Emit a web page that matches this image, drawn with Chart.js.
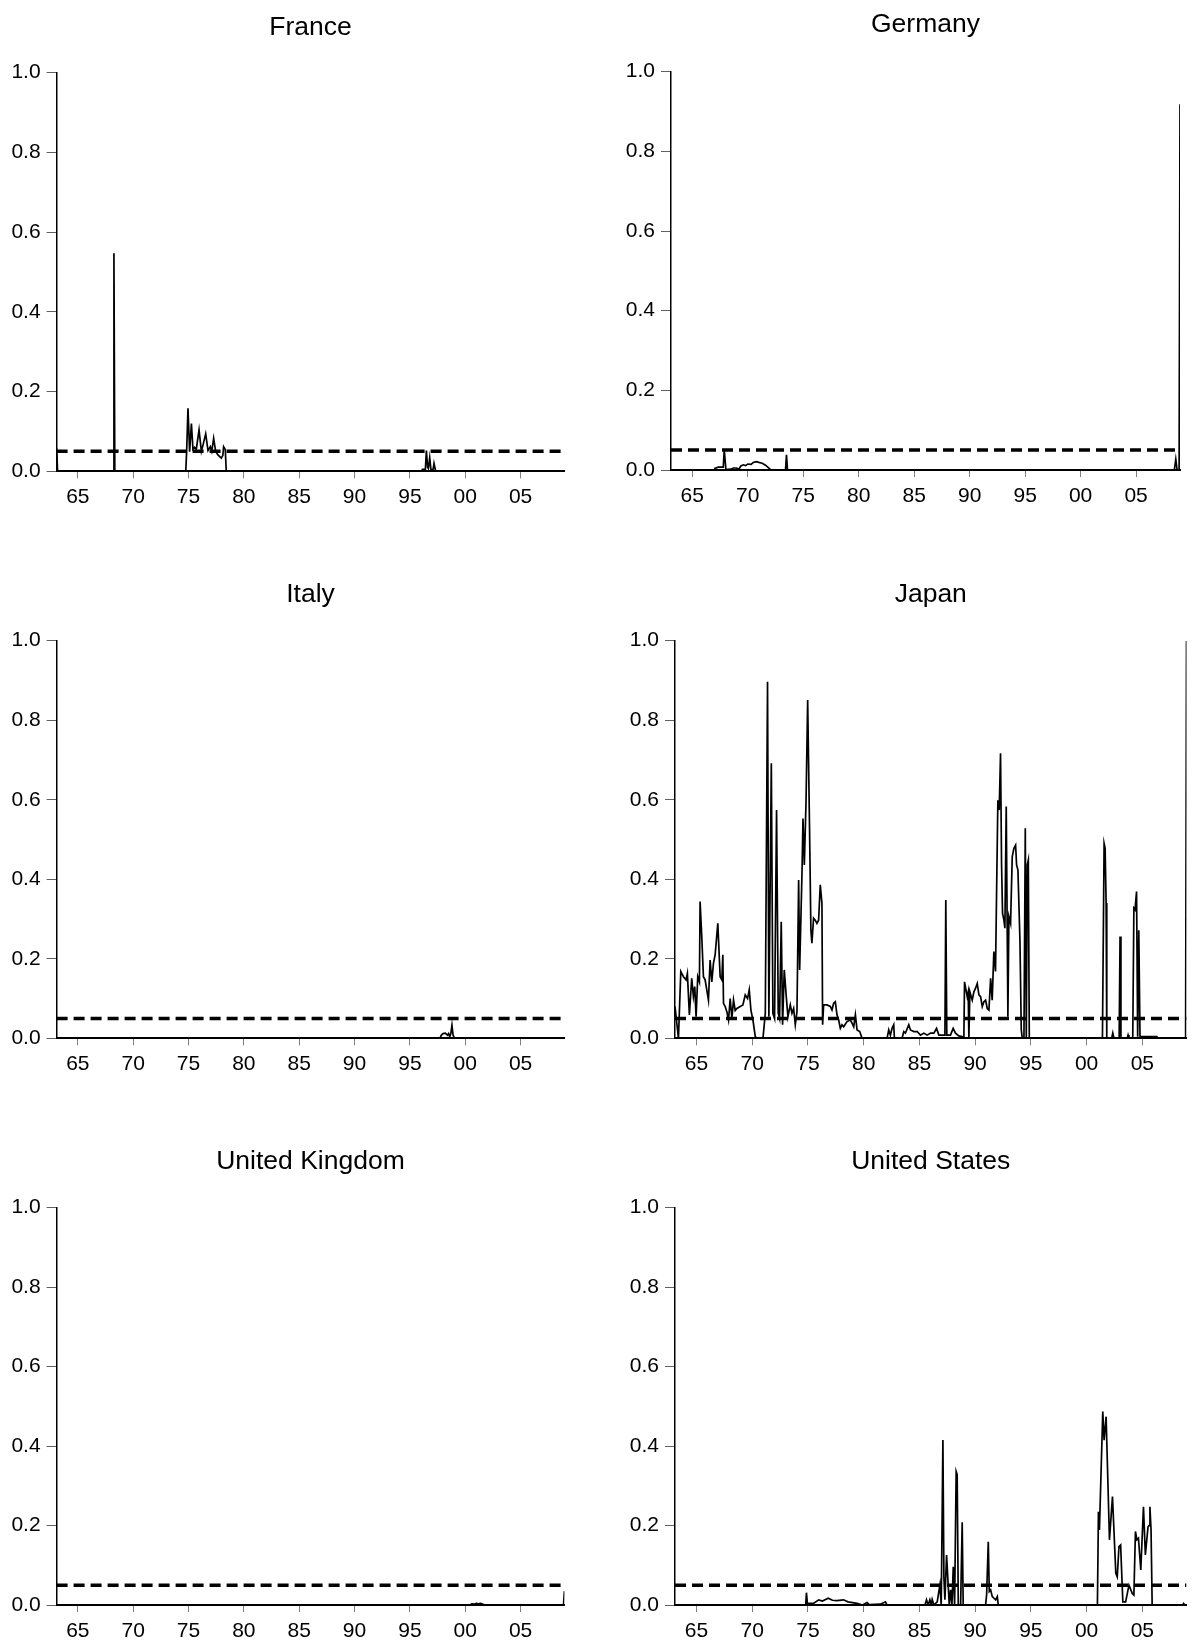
<!DOCTYPE html>
<html>
<head>
<meta charset="utf-8">
<script src="https://cdn.jsdelivr.net/npm/chart.js@4.4.1/dist/chart.umd.min.js"></script>
<style>
html,body{margin:0;padding:0;background:#fff;overflow:hidden;width:1192px;height:1641px;position:relative;}
canvas{position:absolute;}
</style>
</head>
<body>
<script>
// ---- axis definitions ----
const xMin = 1963.08, xMax = 2008.96;
const xTickYears = [1965, 1970, 1975, 1980, 1985, 1990, 1995, 2000, 2005];
const xTickLabels = ['65', '70', '75', '80', '85', '90', '95', '00', '05'];
const yTickValues = [0, 0.2, 0.4, 0.6, 0.8, 1.0];
const yTickLabels = ['0.0', '0.2', '0.4', '0.6', '0.8', '1.0'];

// ---- 5% reference line ----
const thresholdX = [xMin, xMax];
const thresholdY = [0.05, 0.05];

// ---- series (decimal year, probability) ----
const franceX = [1963.08, 1963.17, 1968.18, 1968.26, 1968.34, 1974.75, 1974.83, 1974.95, 1975.1, 1975.26,
  1975.4, 1975.55, 1975.7, 1975.95, 1976.16, 1976.3, 1976.55, 1976.76, 1976.97, 1977.1,
  1977.27, 1977.45, 1977.66, 1977.96, 1978.1, 1978.17, 1978.32, 1978.41, 1996.05, 1996.13,
  1996.4, 1996.49, 1996.6, 1996.67, 1996.79, 1996.9, 1996.97, 1997.1, 1997.18, 1997.33, 2008.96];
const franceY = [0.058, 0, 0, 0.547, 0, 0, 0.05, 0.158, 0.049, 0.12,
  0.055, 0.06, 0.055, 0.104, 0.05, 0.065, 0.094, 0.052, 0.062, 0.05,
  0.083, 0.05, 0.041, 0.033, 0.04, 0.062, 0.055, 0, 0, 0.005,
  0.005, 0.052, 0.01, 0.007, 0.034, 0.005, 0.003, 0.005, 0.02, 0, 0];

const germanyX = [1963.08, 1967.0, 1967.04, 1967.34, 1967.79, 1967.88, 1968.03, 1968.5, 1968.7, 1968.99,
  1969.2, 1969.38, 1969.6, 1969.8, 1970.0, 1970.3, 1970.5, 1970.75, 1971.0, 1971.3,
  1971.6, 1971.85, 1972.05, 1972.14, 1973.4, 1973.49, 1973.58, 2008.45, 2008.58, 2008.7,
  2008.88, 2008.96];
const germanyY = [0, 0, 0.004, 0.007, 0.007, 0.05, 0.001, 0.002, 0.005, 0.005,
  0.002, 0.010, 0.013, 0.011, 0.015, 0.014, 0.019, 0.021, 0.019, 0.017,
  0.012, 0.006, 0.001, 0, 0, 0.038, 0, 0, 0.027, 0,
  0, 0.918];

const italyX = [1963.08, 1997.7, 1997.85, 1998.0, 1998.2, 1998.4, 1998.5, 1998.6, 1998.7, 1998.8, 1998.9, 1999.0, 1999.15, 2008.96];
const italyY = [0, 0, 0.008, 0.012, 0.013, 0.008, 0.012, 0.004, 0.012, 0.033, 0.008, 0.002, 0, 0];

const japanX = [1963.08, 1963.39, 1963.6, 1963.84, 1964.07, 1964.19, 1964.37, 1964.58, 1964.73, 1964.85,
  1964.97, 1965.12, 1965.27, 1965.33, 1965.48, 1965.63, 1965.78, 1965.93, 1966.08, 1966.23,
  1966.38, 1966.53, 1966.68, 1966.92, 1967.13, 1967.28, 1967.37, 1967.43, 1967.58, 1967.73,
  1967.88, 1968.03, 1968.18, 1968.33, 1968.48, 1968.63, 1968.93, 1969.17, 1969.38, 1969.59,
  1969.74, 1969.89, 1970.07, 1970.28, 1970.43, 1970.97, 1971.18, 1971.38, 1971.5, 1971.72,
  1971.86, 1972.01, 1972.19, 1972.34, 1972.46, 1972.61, 1972.73, 1972.88, 1973.06, 1973.21,
  1973.42, 1973.57, 1973.72, 1973.87, 1974.02, 1974.17, 1974.26, 1974.47, 1974.56, 1974.68,
  1974.83, 1974.98, 1975.15, 1975.27, 1975.36, 1975.51, 1975.66, 1975.81, 1975.96, 1976.11,
  1976.26, 1976.32, 1976.41, 1976.71, 1977.01, 1977.16, 1977.31, 1977.46, 1977.61, 1977.76,
  1977.91, 1978.06, 1978.21, 1978.51, 1978.81, 1978.96, 1979.11, 1979.26, 1979.41, 1979.65,
  1979.86, 1982.1, 1982.25, 1982.4, 1982.55, 1982.7, 1982.76, 1983.45, 1983.6, 1983.75,
  1984.05, 1984.2, 1984.5, 1984.8, 1985.1, 1985.4, 1985.7, 1986.0, 1986.3, 1986.54,
  1986.75, 1987.05, 1987.29, 1987.37, 1987.46, 1987.79, 1988.03, 1988.24, 1988.54, 1988.99,
  1989.05, 1989.29, 1989.38, 1989.44, 1989.53, 1989.74, 1989.89, 1990.04, 1990.19, 1990.34,
  1990.49, 1990.64, 1990.79, 1990.94, 1991.09, 1991.24, 1991.39, 1991.53, 1991.68, 1991.83,
  1991.92, 1992.04, 1992.16, 1992.28, 1992.37, 1992.46, 1992.58, 1992.67, 1992.79, 1992.94,
  1993.03, 1993.18, 1993.33, 1993.48, 1993.63, 1993.72, 1993.84, 1994.02, 1994.14, 1994.23,
  1994.38, 1994.5, 1994.59, 1994.68, 1994.77, 1994.86, 2001.42, 2001.57, 2001.66, 2001.75,
  2001.81, 2002.25, 2002.35, 2002.45, 2002.92, 2003.0, 2003.08, 2003.65, 2003.72, 2003.8,
  2004.1, 2004.14, 2004.24, 2004.34, 2004.48, 2004.58, 2004.68, 2004.79, 2006.3, 2006.4,
  2008.88, 2008.96];
const japanY = [0.08, 0, 0.168, 0.155, 0.147, 0.163, 0.059, 0.151, 0.105, 0.13,
  0.054, 0.155, 0.142, 0.344, 0.256, 0.155, 0.147, 0.122, 0.096, 0.197,
  0.142, 0.189, 0.21, 0.289, 0.155, 0.147, 0.21, 0.088, 0.08, 0.067,
  0.046, 0.1, 0.05, 0.096, 0.07, 0.075, 0.08, 0.084, 0.109, 0.1,
  0.122, 0.071, 0.046, 0.004, 0, 0, 0.063, 0.897, 0.054, 0.692,
  0.063, 0.05, 0.574, 0.063, 0.05, 0.293, 0.034, 0.172, 0.105, 0.054,
  0.084, 0.063, 0.075, 0.034, 0.067, 0.398, 0.172, 0.415, 0.553, 0.436,
  0.591, 0.851, 0.524, 0.272, 0.239, 0.302, 0.297, 0.289, 0.297, 0.386,
  0.339, 0.034, 0.084, 0.084, 0.08, 0.071, 0.088, 0.092, 0.059, 0.046,
  0.025, 0.034, 0.029, 0.042, 0.046, 0.038, 0.029, 0.059, 0.021, 0.017,
  0, 0, 0.021, 0.008, 0.025, 0.034, 0, 0, 0.017, 0.013,
  0.034, 0.021, 0.017, 0.017, 0.008, 0.013, 0.008, 0.013, 0.013, 0.025,
  0.008, 0.008, 0.008, 0.348, 0.008, 0.008, 0.025, 0.013, 0.006, 0.003,
  0.142, 0.105, 0.117, 0, 0.117, 0.096, 0.117, 0.126, 0.138, 0.109,
  0.105, 0.08, 0.092, 0.096, 0.075, 0.071, 0.151, 0.096, 0.218, 0.168,
  0.356, 0.599, 0.574, 0.717, 0.44, 0.314, 0.298, 0.277, 0.583, 0.054,
  0.306, 0.289, 0.457, 0.478, 0.486, 0.436, 0.423, 0.247, 0.021, 0,
  0, 0.528, 0, 0.436, 0.448, 0, 0, 0.49, 0.478, 0.34,
  0, 0, 0.013, 0, 0, 0.256, 0, 0, 0.008, 0,
  0, 0.004, 0.327, 0.323, 0.369, 0.004, 0.272, 0.004, 0.004, 0,
  0, 1.0];

const ukX = [1963.08, 2000.4, 2000.6, 2000.8, 2001.0, 2001.2, 2001.4, 2001.6, 2001.9, 2008.88, 2008.96];
const ukY = [0, 0, 0.003, 0.002, 0.004, 0.003, 0.004, 0.002, 0, 0, 0.035];

const usX = [1963.08, 1974.8, 1974.87, 1974.95, 1975.5, 1975.97, 1976.3, 1976.82, 1977.2, 1977.6,
  1978.19, 1978.6, 1979.0, 1979.4, 1979.9, 1980.3, 1980.5, 1981.5, 1981.96, 1982.1,
  1985.5, 1985.64, 1985.79, 1985.94, 1986.06, 1986.15, 1986.3, 1986.6, 1986.84, 1986.96,
  1987.11, 1987.2, 1987.29, 1987.44, 1987.56, 1987.68, 1987.8, 1987.92, 1988.04, 1988.16,
  1988.3, 1988.39, 1988.49, 1988.7, 1988.84, 1988.93, 1990.94, 1991.03, 1991.18, 1991.27,
  1991.39, 1991.54, 1991.69, 1991.84, 1991.99, 1992.08, 2000.97, 2001.06, 2001.15, 2001.45,
  2001.57, 2001.75, 2002.05, 2002.32, 2002.62, 2002.75, 2002.9, 2003.05, 2003.25, 2003.5,
  2003.8, 2004.1, 2004.24, 2004.38, 2004.51, 2004.65, 2004.86, 2005.1, 2005.27, 2005.51,
  2005.6, 2005.68, 2005.78, 2005.88, 2008.6, 2008.7, 2008.8, 2008.96];
const usY = [0, 0, 0.031, 0.004, 0.004, 0.013, 0.01, 0.017, 0.012, 0.011,
  0.013, 0.008, 0.006, 0.004, 0, 0.006, 0.001, 0.002, 0.008, 0,
  0, 0.013, 0, 0.013, 0, 0.014, 0, 0.008, 0.05, 0,
  0.415, 0.07, 0.013, 0.126, 0.063, 0, 0.038, 0, 0.096, 0,
  0.336, 0.328, 0, 0, 0.208, 0, 0, 0.025, 0.159, 0.034,
  0.038, 0.021, 0.017, 0.013, 0.021, 0, 0, 0.235, 0.189, 0.487,
  0.415, 0.474, 0.164, 0.273, 0.08, 0.071, 0.147, 0.151, 0.008, 0.008,
  0.05, 0.029, 0.025, 0.185, 0.164, 0.168, 0.088, 0.247, 0.126, 0.197,
  0.2, 0.247, 0.189, 0, 0, 0.004, 0, 0];

// ---- panel layout (positions only) ----
const FONT = '"Liberation Sans", Arial, Helvetica, sans-serif';
const CW = 596, CH = 512;
const panels = [
  {title: 'France', xs: franceX, ys: franceY, left: 0, top: 0, axisW: 56.6, padR: 31.6, titleY: 28, plotTop: 72.7, plotBottom: 471.3},
  {title: 'Germany', xs: germanyX, ys: germanyY, left: 596, top: 0, axisW: 75, padR: 12, titleY: 25, plotTop: 71.7, plotBottom: 470},
  {title: 'Italy', xs: italyX, ys: italyY, left: 0, top: 567, axisW: 56.6, padR: 31.6, titleY: 27.5, plotTop: 73.7, plotBottom: 471.3},
  {title: 'Japan', xs: japanX, ys: japanY, left: 596, top: 567, axisW: 79, padR: 5.5, titleY: 27.5, plotTop: 73.7, plotBottom: 471.3},
  {title: 'United Kingdom', xs: ukX, ys: ukY, left: 0, top: 1134, axisW: 56.6, padR: 31.6, titleY: 28, plotTop: 73.7, plotBottom: 471},
  {title: 'United States', xs: usX, ys: usY, left: 596, top: 1134, axisW: 79, padR: 5.5, titleY: 28, plotTop: 73.7, plotBottom: 471}
];

function makePanel(p) {
  const c = document.createElement('canvas');
  c.width = CW; c.height = CH;
  c.style.left = p.left + 'px'; c.style.top = p.top + 'px';
  c.style.width = CW + 'px'; c.style.height = CH + 'px';
  document.body.appendChild(c);
  const titleLH = 26.5 * 1.2;
  new Chart(c, {
    type: 'scatter',
    data: {
      datasets: [
        {
          data: p.xs.map((x, i) => ({x: x, y: p.ys[i]})),
          showLine: true, borderColor: '#000', borderWidth: 1.7,
          pointRadius: 0, pointHoverRadius: 0, tension: 0, order: 2
        },
        {
          data: thresholdX.map((x, i) => ({x: x, y: thresholdY[i]})),
          showLine: true, borderColor: '#000', borderWidth: 3.5, borderDash: [11, 6],
          pointRadius: 0, pointHoverRadius: 0, tension: 0, order: 1
        }
      ]
    },
    options: {
      responsive: false, animation: false, devicePixelRatio: 1,
      layout: {padding: {left: 0, right: p.padR, top: 0, bottom: 0}},
      plugins: {
        legend: {display: false},
        tooltip: {enabled: false},
        title: {
          display: true, text: p.title, fullSize: false, color: '#000',
          font: {family: FONT, size: 26.5, weight: 'normal', lineHeight: 1.2},
          padding: {top: p.titleY - titleLH / 2, bottom: p.plotTop - p.titleY - titleLH / 2}
        }
      },
      scales: {
        x: {
          type: 'linear', min: xMin, max: xMax, bounds: 'data',
          afterBuildTicks: s => { s.ticks = xTickYears.map(v => ({value: v})); },
          afterFit: s => { s.height = CH - p.plotBottom; },
          ticks: {
            autoSkip: false, maxRotation: 0, minRotation: 0, color: '#000', padding: 6.5,
            font: {family: FONT, size: 21},
            callback: (v, i) => xTickLabels[i]
          },
          grid: {drawOnChartArea: false, drawTicks: true, tickLength: 7, color: '#808080', lineWidth: 1},
          border: {display: true, color: '#000', width: 2}
        },
        y: {
          type: 'linear', min: 0, max: 1, bounds: 'data',
          afterBuildTicks: s => { s.ticks = yTickValues.map(v => ({value: v})); },
          afterFit: s => { s.width = p.axisW; },
          ticks: {
            autoSkip: false, color: '#000', padding: 6,
            font: {family: FONT, size: 21},
            callback: (v, i) => yTickLabels[i]
          },
          grid: {drawOnChartArea: false, drawTicks: true, tickLength: 10, color: '#606060', lineWidth: 1},
          border: {display: true, color: '#000', width: 1.5}
        }
      }
    }
  });
}

panels.forEach(makePanel);
</script>
</body>
</html>
